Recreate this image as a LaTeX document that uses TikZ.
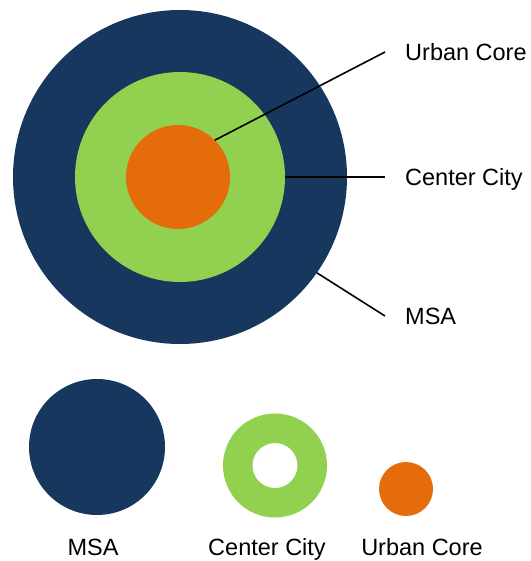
\documentclass[tikz,border=0pt]{standalone}
\usepackage{fontspec}
\setmainfont{Liberation Sans}
\definecolor{msablue}{HTML}{17375E}
\definecolor{citygreen}{HTML}{92D050}
\definecolor{coreorange}{HTML}{E46C0A}
\tikzset{
	disc/.style = {circle, inner sep = 0pt, outer sep = 0pt},
	lbl/.style = {font = \fontsize{23.5}{28}\selectfont, text height = 17pt, text depth = 0pt, inner ysep = 0pt},
	leader/.style = {line width = 1.6pt}
}
\begin{document}
\begin{tikzpicture}[x = 1pt, y = -1pt]
		\useasboundingbox (0, 0) rectangle (530, 561);
		% the nested areas
		\node[disc, fill = msablue,    minimum size = 334pt] (msa)  at (180, 177) {};
		\node[disc, fill = citygreen,  minimum size = 210pt] (city) at (180, 177) {};
		\node[disc, fill = coreorange, minimum size = 104pt] (core) at (178, 177) {};
		% labels on the right
		\node[lbl, anchor = west, inner xsep = 20pt] (coretxt) at (385, 52)  {Urban Core};
		\node[lbl, anchor = west, inner xsep = 20pt] (citytxt) at (385, 177) {Center City};
		\node[lbl, anchor = west, inner xsep = 20pt] (msatxt)  at (385, 316) {MSA};
		\draw[leader] (core.45)  -- (coretxt.west);
		\draw[leader] (city.east) -- (citytxt.west);
		\draw[leader] (msa.-35)  -- (msatxt.west);
		% the three areas on their own
		\node[disc, fill = msablue, minimum size = 136pt] (msaone) at (97, 447) {};
		\node[disc, draw = citygreen, line width = 29.5pt, minimum size = 74.5pt] (cityone) at (275, 465.5) {};
		\node[disc, fill = coreorange, minimum size = 54pt] (coreone) at (406, 489) {};
		\node[lbl, anchor = base] (msaname)  at (93, 555)  {MSA};
		\node[lbl, anchor = base] (cityname) at (267, 555) {Center City};
		\node[lbl, anchor = base] (corename) at (422, 555) {Urban Core};
	\end{tikzpicture}
\end{document}
